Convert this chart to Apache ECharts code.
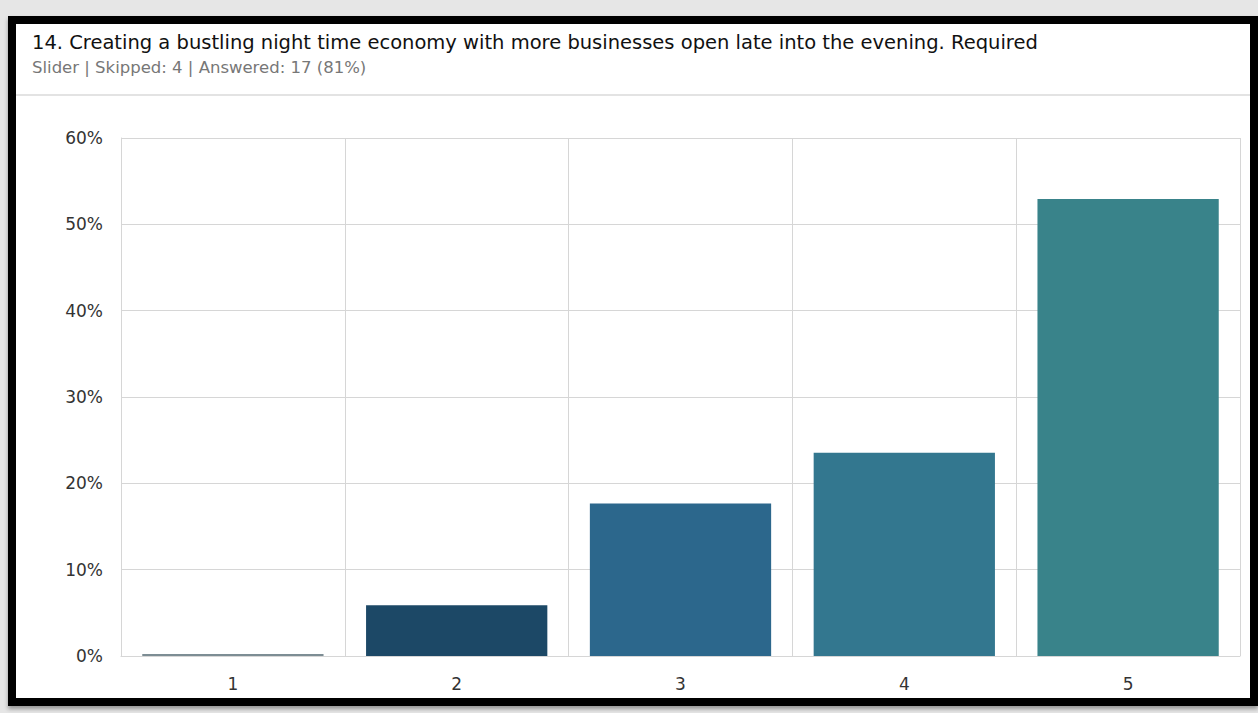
<!DOCTYPE html>
<html>
<head>
<meta charset="utf-8">
<script src="https://cdn.jsdelivr.net/npm/echarts@6/dist/echarts.min.js"></script>
<style>
html,body{margin:0;padding:0;width:1258px;height:713px;background:#e6e6e6;overflow:hidden;}
#frame{position:absolute;left:8px;top:16px;width:1250px;height:690px;box-sizing:border-box;border:8px solid #000;background:#fff;box-shadow:0 3px 4px rgba(0,0,0,0.35);}
#chart{position:absolute;left:0;top:0;width:1234px;height:674px;}
</style>
</head>
<body>
<div id="frame"><div id="chart"></div></div>
<script>
const titleText = '14. Creating a bustling night time economy with more businesses open late into the evening. Required';
const subtitleText = 'Slider | Skipped: 4 | Answered: 17 (81%)';
const categories = ['1', '2', '3', '4', '5'];
const percentages = [0, 5.88, 17.65, 23.53, 52.94];
const barColors = ['#7d8d94', '#1c4866', '#2c678c', '#33778f', '#39838a'];
const yTicks = [0, 10, 20, 30, 40, 50, 60];

const chart = echarts.init(document.getElementById('chart'), null, {renderer: 'svg'});
chart.setOption({
  animation: false,
  backgroundColor: '#fff',
  title: [
    {text: titleText, left: 16, top: 8, padding: 0, textStyle: {fontFamily: 'DejaVu Sans', fontSize: 19.5, fontWeight: 'normal', color: '#111'}},
    {text: subtitleText, left: 16, top: 35, padding: 0, textStyle: {fontFamily: 'DejaVu Sans', fontSize: 16.5, fontWeight: 'normal', color: '#777'}}
  ],
  graphic: [
    {type: 'rect', left: 0, top: 70, shape: {width: 1234, height: 2}, style: {fill: '#e3e3e3'}, silent: true}
  ],
  grid: {left: 105, right: 10, top: 114, bottom: 42, containLabel: false},
  xAxis: {
    type: 'category',
    data: categories,
    axisLine: {show: true, lineStyle: {color: '#d6d6d6', width: 1}},
    axisTick: {show: false},
    splitLine: {show: true, lineStyle: {color: '#d6d6d6', width: 1}},
    axisLabel: {fontFamily: 'DejaVu Sans', fontSize: 17, color: '#333', margin: 19}
  },
  yAxis: {
    type: 'value',
    min: yTicks[0],
    max: yTicks[yTicks.length - 1],
    interval: 10,
    axisLine: {show: true, lineStyle: {color: '#d6d6d6'}},
    axisTick: {show: false},
    splitLine: {show: true, lineStyle: {color: '#d6d6d6', width: 1}},
    axisLabel: {fontFamily: 'DejaVu Sans', fontSize: 17, color: '#333', margin: 18, formatter: v => v + '%'}
  },
  series: [{
    type: 'bar',
    data: percentages.map((v, i) => ({value: v, itemStyle: {color: barColors[i]}})),
    barCategoryGap: '19%',
    barMinHeight: 2
  }]
});
</script>
</body>
</html>
